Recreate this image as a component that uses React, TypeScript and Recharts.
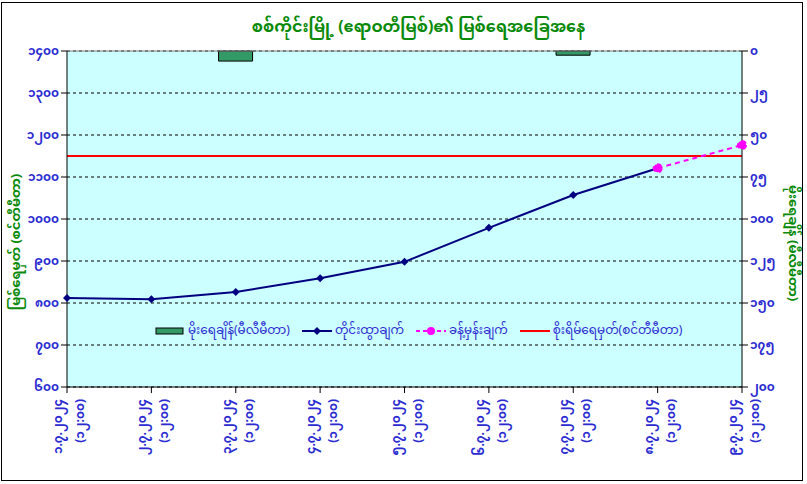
import React from "react"
import {
    ComposedChart, Bar, Line, XAxis, YAxis, CartesianGrid, ReferenceLine,
} from "recharts"

const dates = ["၁.၇.၂၀၂၄", "၂.၇.၂၀၂၄", "၃.၇.၂၀၂၄", "၄.၇.၂၀၂၄", "၅.၇.၂၀၂၄", "၆.၇.၂၀၂၄", "၇.၇.၂၀၂၄", "၈.၇.၂၀၂၄", "၉.၇.၂၀၂၄"]
const obsTime = "(၁၂:၀၀)"
const waterLevel = [812, 809, 826, 859, 898, 979, 1057, 1121, null]
const forecast = [null, null, null, null, null, null, null, 1121, 1176]
const rainfall = [null, null, 6, null, null, null, 2.5, null, null]
const dangerLevel = 1150
const levelTicks = [600, 700, 800, 900, 1000, 1100, 1200, 1300, 1400]
const rainTicks = [0, 25, 50, 75, 100, 125, 150, 175, 200]

const FONT = "'Noto Sans Myanmar', 'Myanmar Text', Padauk, 'Noto Sans', sans-serif"
const BLUE = "#2b2bd1"
const GREEN = "#0a8a0a"

const toMy = (v: number | string) => String(v).replace(/[0-9]/g, (d) => String.fromCharCode(0x1040 + Number(d)))

const data = dates.map((d, i) => ({
    idx: i,
    date: d,
    level: waterLevel[i],
    forecast: forecast[i],
    rain: rainfall[i],
}))

const Diamond = (props: any) => {
    const { cx, cy } = props
    if (cx == null || cy == null) return null
    return <path d={`M${cx},${cy - 4} L${cx + 4},${cy} L${cx},${cy + 4} L${cx - 4},${cy} Z`} fill="#000080" />
}

const DateTick = (props: any) => {
    const { x, y, payload } = props
    const label = dates[payload.value]
    return (
        <g transform={`translate(${x},${y + 4}) rotate(-90)`}>
            <text x={0} y={0} textAnchor="end" fill={BLUE} fontSize={12} fontWeight="bold" fontFamily={FONT}>
                <tspan x={0} dy={-5}>{label}</tspan>
                <tspan x={0} dy={22}>{obsTime}</tspan>
            </text>
        </g>
    )
}

const legendItems = [
    { key: "rain", label: "မိုးရေချိန်(မီလီမီတာ)" },
    { key: "level", label: "တိုင်းထွာချက်" },
    { key: "forecast", label: "ခန့်မှန်းချက်" },
    { key: "danger", label: "စိုးရိမ်ရေမှတ်(စင်တီမီတာ)" },
]

const LegendBox = () => (
    <div style={{ position: "absolute", left: 155, top: 318, display: "flex", alignItems: "center", fontFamily: FONT, fontSize: 12, color: BLUE, whiteSpace: "nowrap" }}>
        {legendItems.map((it) => (
            <div key={it.key} style={{ display: "flex", alignItems: "center", marginRight: 12 }}>
                <svg width={30} height={12} style={{ marginRight: 3 }}>
                    {it.key === "rain" && <rect x={1} y={3} width={27} height={6} fill="#339966" stroke="#000" strokeWidth={1} />}
                    {it.key === "level" && <>
                        <line x1={0} y1={6} x2={30} y2={6} stroke="#000080" strokeWidth={2} />
                        <path d="M15,2 L19,6 L15,10 L11,6 Z" fill="#000080" />
                    </>}
                    {it.key === "forecast" && <>
                        <line x1={0} y1={6} x2={30} y2={6} stroke="#ff00ff" strokeWidth={2} strokeDasharray="4 3" />
                        <circle cx={15} cy={6} r={4} fill="#ff00ff" />
                    </>}
                    {it.key === "danger" && <line x1={0} y1={6} x2={30} y2={6} stroke="#ff0000" strokeWidth={2} />}
                </svg>
                <span>{it.label}</span>
            </div>
        ))}
    </div>
)

export default function App() {
    return (
        <div style={{ position: "absolute", left: 0, top: 0, width: 807, height: 484, background: "#fff" }}>
            <div style={{ position: "absolute", left: 1, top: 2, width: 802, height: 479, border: "1px solid #000", boxSizing: "border-box" }} />
            <div style={{ position: "absolute", left: 30, top: 11, width: 777, textAlign: "center", fontFamily: FONT, fontSize: 16, fontWeight: "bold", color: GREEN }}>
                စစ်ကိုင်းမြို့ (ဧရာဝတီမြစ်)၏ မြစ်ရေအခြေအနေ
            </div>
            <div style={{ position: "absolute", left: 0, top: 0 }}>
                <ComposedChart width={807} height={484} data={data} margin={{ top: 51, right: 25, bottom: 37, left: 17 }}>
                    <CartesianGrid vertical={false} fill="#ccffff" stroke="#000" strokeDasharray="3 3" yAxisId="level" />
                    <XAxis
                        dataKey="idx"
                        type="number"
                        domain={[0, 8]}
                        ticks={[0, 1, 2, 3, 4, 5, 6, 7, 8]}
                        height={60}
                        stroke="#000"
                        tickSize={6}
                        tick={<DateTick />}
                        interval={0}
                    />
                    <YAxis
                        yAxisId="level"
                        domain={[600, 1400]}
                        ticks={levelTicks}
                        width={50}
                        stroke="#000"
                        tickSize={6}
                        tickFormatter={toMy}
                        tick={{ fill: BLUE, fontSize: 12, fontWeight: "bold", fontFamily: FONT }}
                    />
                    <YAxis
                        yAxisId="rain"
                        orientation="right"
                        reversed
                        domain={[0, 200]}
                        ticks={rainTicks}
                        width={40}
                        stroke="#000"
                        tickSize={6}
                        tickFormatter={toMy}
                        tick={{ fill: BLUE, fontSize: 12, fontWeight: "bold", fontFamily: FONT }}
                    />
                    <ReferenceLine yAxisId="level" y={1400} stroke="#808080" />
                    <Bar yAxisId="rain" dataKey="rain" barSize={34} fill="#339966" stroke="#000" strokeWidth={1} isAnimationActive={false} />
                    <ReferenceLine yAxisId="level" y={dangerLevel} stroke="#ff0000" strokeWidth={2} />
                    <Line yAxisId="level" dataKey="level" stroke="#000080" strokeWidth={2} dot={<Diamond />} activeDot={false} isAnimationActive={false} />
                    <Line yAxisId="level" dataKey="forecast" stroke="#ff00ff" strokeWidth={2} strokeDasharray="5 4" dot={{ r: 4, fill: "#ff00ff", stroke: "#ff00ff" }} activeDot={false} isAnimationActive={false} />
                </ComposedChart>
            </div>
            <LegendBox />
            <div style={{ position: "absolute", left: 17, top: 242, transform: "translate(-50%, -50%) rotate(-90deg)", fontFamily: FONT, fontSize: 13, fontWeight: "bold", color: GREEN, whiteSpace: "nowrap" }}>
                မြစ်ရေမှတ် (စင်တီမီတာ)
            </div>
            <div style={{ position: "absolute", left: 792, top: 243, transform: "translate(-50%, -50%) rotate(90deg)", fontFamily: FONT, fontSize: 13, fontWeight: "bold", color: GREEN, whiteSpace: "nowrap" }}>
                မိုးရေချိန် (မီလီမီတာ)
            </div>
        </div>
    )
}
